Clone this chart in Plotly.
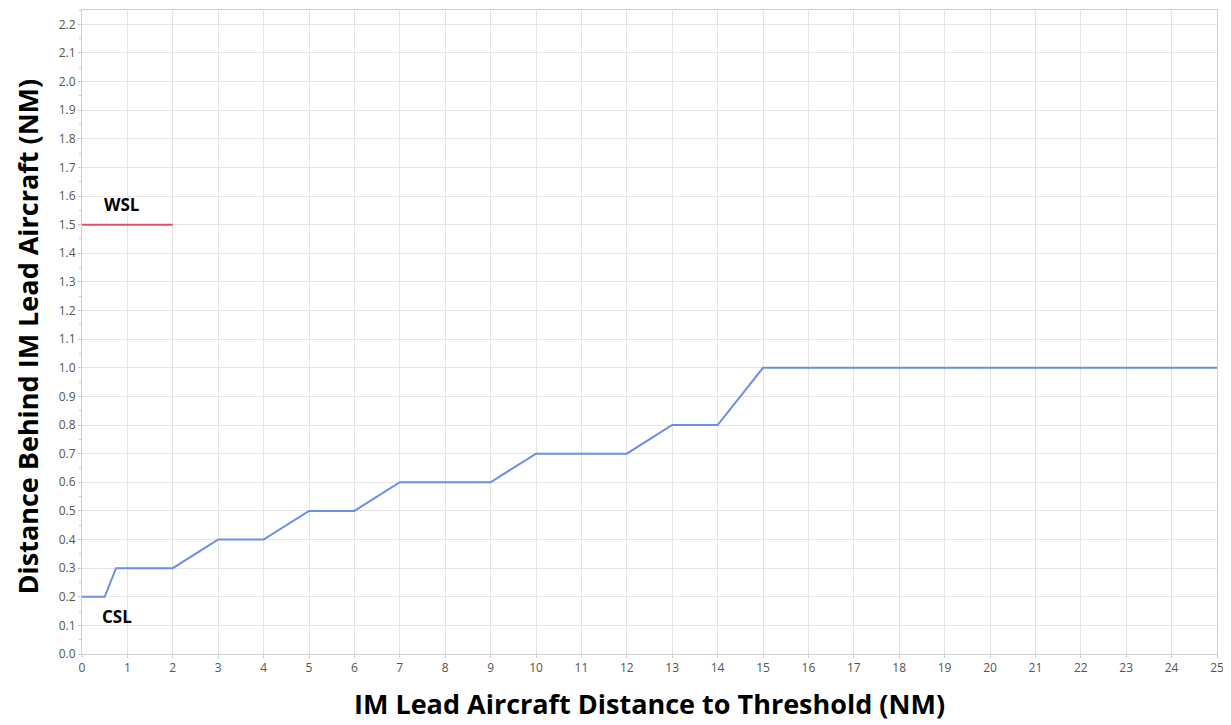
import plotly.graph_objects as go

# step profile of the spacing limit (CSL) vs lead aircraft distance
csl_x = [0, 0.5, 0.75, 2, 3, 4, 5, 6, 7, 9, 10, 12, 13, 14, 15, 25]
csl_y = [0.2, 0.2, 0.3, 0.3, 0.4, 0.4, 0.5, 0.5, 0.6, 0.6, 0.7, 0.7, 0.8, 0.8, 1.0, 1.0]

wsl_x = [0, 2]
wsl_y = [1.5, 1.5]

fig = go.Figure()
fig.add_trace(go.Scatter(x=csl_x, y=csl_y, mode="lines", name="CSL",
                         line=dict(color="#6A8FE6", width=2)))
fig.add_trace(go.Scatter(x=wsl_x, y=wsl_y, mode="lines", name="WSL",
                         line=dict(color="#E0535E", width=2)))

fig.add_annotation(x=0.88, y=1.57, text="<b>WSL</b>", showarrow=False,
                   font=dict(size=17, color="black"))
fig.add_annotation(x=0.78, y=0.13, text="<b>CSL</b>", showarrow=False,
                   font=dict(size=17, color="black"))

# axis titles as paper annotations so the plot area stays put
fig.add_annotation(x=0.5, y=-0.108, xref="paper", yref="paper",
                   text="<b>IM Lead Aircraft Distance to Threshold (NM)</b>",
                   showarrow=False, xanchor="center", yanchor="bottom",
                   font=dict(size=27, color="black"))
fig.add_annotation(x=-0.0476, y=0.493, xref="paper", yref="paper",
                   text="<b>Distance Behind IM Lead Aircraft (NM)</b>",
                   showarrow=False, xanchor="center", yanchor="middle",
                   textangle=-90, font=dict(size=27, color="black"))

fig.update_xaxes(
    range=[0, 25], dtick=1, tick0=0,
    showgrid=True, gridcolor="#E6E6E6", gridwidth=1,
    showline=True, linecolor="#D0D0D0", mirror=True,
    ticks="outside", ticklen=3, tickcolor="#C8C8C8",
    tickfont=dict(size=12, color="#555555"),
    zeroline=False, automargin=False,
)
fig.update_yaxes(
    range=[0, 2.25], dtick=0.1, tick0=0, tickformat=".1f",
    showgrid=True, gridcolor="#E6E6E6", gridwidth=1,
    showline=True, linecolor="#D0D0D0", mirror=True,
    ticks="outside", ticklen=3, tickcolor="#C8C8C8",
    minor=dict(dtick=0.05, ticks="outside", ticklen=2, tickcolor="#C8C8C8", showgrid=False),
    tickfont=dict(size=12, color="#555555"),
    zeroline=False, automargin=False,
)

# page body adds 8px, so the figure is a bit smaller than the window
fig.update_layout(
    width=1223, height=717,
    margin=dict(l=74, r=14, t=2, b=71),
    plot_bgcolor="white", paper_bgcolor="white",
    font=dict(family="Open Sans"),
    showlegend=False,
)

fig.write_html("out.html")
